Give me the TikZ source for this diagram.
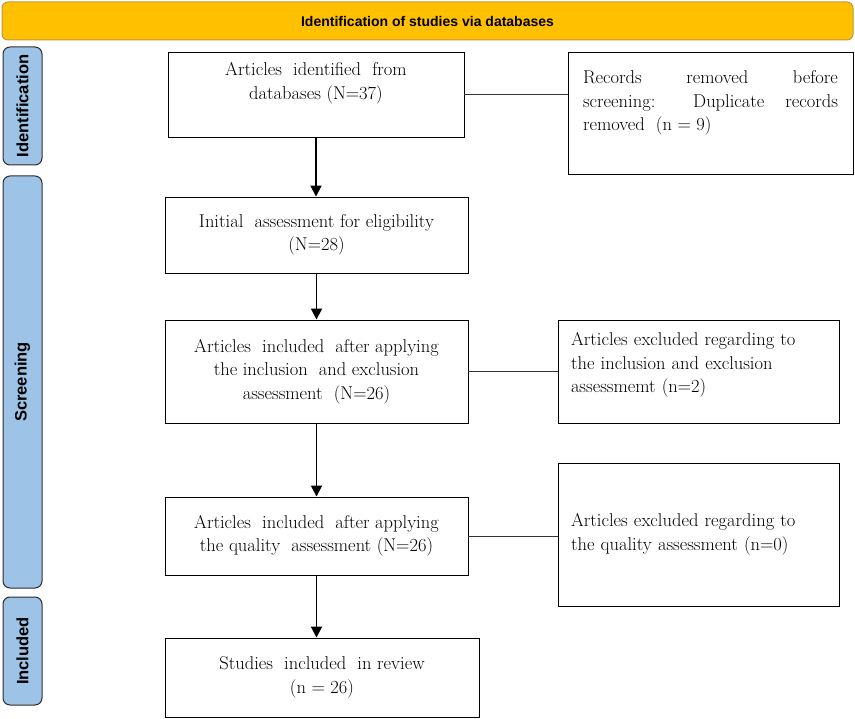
\documentclass[tikz,border=0pt]{standalone}
\usepackage{fontspec}
\setsansfont{Liberation Sans}
\usepackage{xcolor}
\usepackage{tikz}
\usetikzlibrary{positioning, arrows.meta}

\definecolor{hdrfill}{RGB}{255,192,0}
\definecolor{hdrdraw}{RGB}{196,150,60}
\definecolor{phasefill}{RGB}{157,195,230}
\definecolor{phasedraw}{RGB}{45,45,45}

\begin{document}
\begin{tikzpicture}[
      x=1pt, y=-1pt,
      arr/.style={-{Triangle[length=11pt, width=11pt]}, line width=1.8pt, black},
      link/.style={line width=1pt, black!80},
      boxnode/.style={rectangle, draw=black, line width=0.9pt, fill=white,
          align=center, inner sep=0pt,
          font=\fontsize{18.5}{23.5}\selectfont},
      sidebox/.style={boxnode, text width=255pt, align=left},
      hdr/.style={rectangle, rounded corners=6pt, draw=hdrdraw, line width=1pt,
          fill=hdrfill, font=\sffamily\bfseries\fontsize{14}{16}\selectfont},
      phase/.style={rectangle, rounded corners=7pt, draw=phasedraw,
          line width=1pt, fill=phasefill, rotate=90, minimum height=39pt,
          font=\sffamily\bfseries\fontsize{16.5}{18}\selectfont},
    ]
    \useasboundingbox (0, 0) rectangle (855, 719);

    %% ── HEADER ──────────────────────────────────────────────────────────────
    \node[hdr, minimum width=851pt, minimum height=38pt] at (427.5, 21) (header)
    {Identification of studies via databases};

    %% ── PHASES (left column) ────────────────────────────────────────────────
    \node[phase, minimum width=118pt] at (22.5, 106) (identification) {Identification};
    \node[phase, minimum width=412pt] at (22.5, 382) (screening) {Screening};
    \node[phase, minimum width=108pt] at (22.5, 651) (included) {Included};

    %% ── MAIN COLUMN ─────────────────────────────────────────────────────────
    \node[boxnode, minimum width=296pt, minimum height=85pt, text depth=27pt]
    at (316, 94.5) (found)
    {Articles\ \ identified\ \ from\\ databases (N=37)};
    \node[boxnode, minimum width=303pt, minimum height=76pt] at (316.5, 235) (initial)
    {Initial\ \ assessment for eligibility\\ (N=28)};
    \node[boxnode, minimum width=303pt, minimum height=103pt] at (316.5, 371.5) (incexc)
    {Articles\ \ included\ \ after applying\\ the inclusion\ \ and exclusion\\
    assessment\ \ (N=26)};
    \node[boxnode, minimum width=303pt, minimum height=78pt] at (316.5, 536) (quality)
    {Articles\ \ included\ \ after applying\\ the quality\ \ assessment (N=26)};
    \node[boxnode, minimum width=314pt, minimum height=79pt] at (322, 677.5) (review)
    {Studies\ \ included\ \ in review\\ (n = 26)};

    %% ── SIDE COLUMN ─────────────────────────────────────────────────────────
    \node[sidebox, align=justify, minimum width=285pt,
      minimum height=122pt, text depth=71pt] at (710.5, 113) (removed)
    {Records removed before\linebreak screening: Duplicate records\linebreak
    removed\ \ (n = 9)};
    \node[sidebox, minimum width=281pt, minimum height=103pt, text depth=65pt]
    at (698.5, 371.5) (excl1)
    {Articles excluded regarding to\\ the inclusion and exclusion\\
    assessmemt (n=2)};
    \node[sidebox, minimum width=281pt, minimum height=143pt] at (698.5, 534.5) (excl2)
    {Articles excluded regarding to\\ the quality assessment (n=0)};

    %% ── ARROWS ──────────────────────────────────────────────────────────────
    \draw[arr] (found.south)   -- (found.south |- initial.north);
    \draw[arr] (initial.south) -- (initial.south |- incexc.north);
    \draw[arr] (incexc.south)  -- (incexc.south |- quality.north);
    \draw[arr] (quality.south) -- (quality.south |- review.north);
    \draw[link] ([yshift=-0.5pt]found.east) -- ([yshift=-0.5pt]found.east -| removed.west);
    \draw[link] (incexc.east)  -- (excl1.west);
    \draw[link] (quality.east) -- (quality.east -| excl2.west);

  \end{tikzpicture}
\end{document}
